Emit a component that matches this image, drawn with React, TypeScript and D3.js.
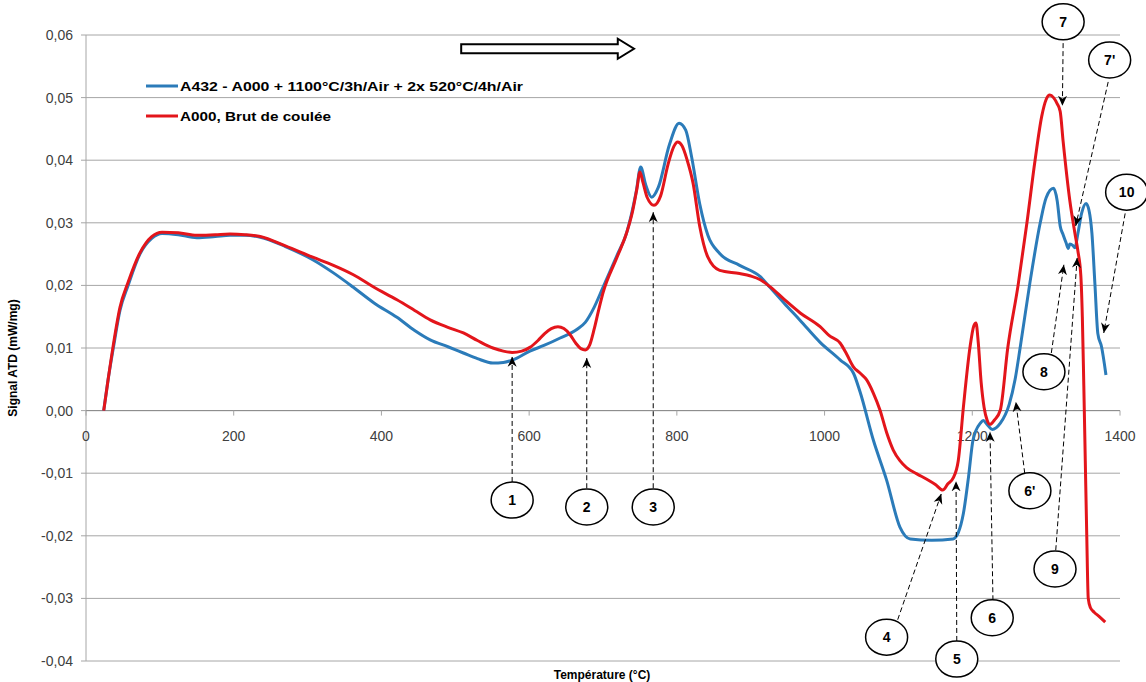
import React from "react";
import * as d3 from "d3";

// ---------- data ----------
const blueT = [24, 30, 37, 46, 57, 73, 89, 103, 125, 150, 175, 195, 215, 236, 270, 307, 335, 362, 390, 421, 445, 466, 490, 511, 530, 551, 565, 578, 601, 620, 642, 665, 676, 688, 700, 719, 732, 745, 751, 758, 766, 775, 790, 803, 812, 820, 831, 842, 858, 885, 913, 926, 945, 967, 994, 1021, 1039, 1048, 1066, 1084, 1102, 1116, 1145, 1174, 1181, 1188, 1195, 1201, 1211, 1215, 1220, 1227, 1238, 1250, 1258, 1265, 1278, 1292, 1300, 1310, 1315, 1319, 1323, 1327, 1330, 1332, 1336, 1339, 1343, 1348, 1354, 1358, 1362, 1366, 1370, 1375, 1381];
const blueY = [0, 0.005, 0.01, 0.016, 0.02, 0.025, 0.0275, 0.0283, 0.0281, 0.0276, 0.0278, 0.028, 0.028, 0.0277, 0.0262, 0.0241, 0.022, 0.0197, 0.0172, 0.0149, 0.0128, 0.0113, 0.0102, 0.0092, 0.0083, 0.0076, 0.0077, 0.0081, 0.0095, 0.0104, 0.0116, 0.013, 0.0141, 0.0165, 0.0197, 0.0248, 0.0284, 0.035, 0.0389, 0.036, 0.0341, 0.0357, 0.0425, 0.0459, 0.0448, 0.0405, 0.033, 0.028, 0.0251, 0.0232, 0.0214, 0.0197, 0.0172, 0.0144, 0.0109, 0.0081, 0.006, 0.003, -0.0047, -0.0111, -0.0186, -0.0205, -0.0207, -0.0205, -0.0195, -0.0164, -0.0105, -0.0047, -0.002, -0.0016, -0.0022, -0.003, -0.002, 0.001, 0.005, 0.0102, 0.0204, 0.03, 0.034, 0.0355, 0.0335, 0.0295, 0.0281, 0.0268, 0.0259, 0.0266, 0.0264, 0.026, 0.0283, 0.0315, 0.0331, 0.032, 0.0283, 0.0203, 0.0123, 0.0102, 0.0057];

const redT = [24, 30, 37, 46, 57, 73, 89, 103, 125, 150, 175, 195, 215, 236, 270, 307, 335, 362, 390, 421, 445, 466, 490, 511, 530, 551, 565, 577, 590, 601, 612, 621, 630, 639, 647, 655, 663, 670, 676, 682, 688, 694, 700, 719, 732, 740, 746, 750, 754, 760, 769, 778, 788, 796, 801, 807, 814, 822, 831, 842, 858, 885, 900, 913, 926, 945, 967, 994, 1006, 1021, 1030, 1039, 1048, 1057, 1066, 1075, 1084, 1093, 1102, 1111, 1125, 1139, 1150, 1160, 1167, 1174, 1181, 1188, 1197, 1202, 1205, 1208, 1212, 1216, 1220, 1224, 1230, 1238, 1248, 1262, 1274, 1285, 1294, 1300, 1305, 1310, 1315, 1319, 1323, 1332, 1339, 1343, 1347, 1349, 1351, 1353, 1355, 1357, 1360, 1365, 1372, 1380];
const redY = [0, 0.005, 0.0105, 0.0165, 0.0205, 0.0252, 0.0278, 0.0285, 0.0284, 0.028, 0.0281, 0.0282, 0.0281, 0.0278, 0.0263, 0.0245, 0.0232, 0.0217, 0.0197, 0.0177, 0.016, 0.0145, 0.0133, 0.0124, 0.0112, 0.01, 0.0095, 0.0093, 0.0095, 0.0101, 0.0112, 0.0123, 0.0131, 0.0134, 0.0131, 0.0122, 0.0108, 0.0099, 0.0097, 0.0105, 0.013, 0.016, 0.0188, 0.0245, 0.0284, 0.0318, 0.0355, 0.0381, 0.0365, 0.034, 0.0328, 0.0343, 0.0393, 0.0422, 0.0429, 0.0423, 0.04, 0.0363, 0.0294, 0.0245, 0.0224, 0.0219, 0.0215, 0.0209, 0.0198, 0.0178, 0.0156, 0.0134, 0.012, 0.0108, 0.009, 0.007, 0.006, 0.0049, 0.0028, 0.0001, -0.0035, -0.0063, -0.008, -0.0091, -0.0101, -0.011, -0.0118, -0.0127, -0.0117, -0.0108, -0.008, 0.0006, 0.0102, 0.0135, 0.014, 0.011, 0.0045, 0.0005, -0.0015, -0.0022, -0.0015, 0.0001, 0.01, 0.02, 0.03, 0.04, 0.047, 0.0497, 0.0504, 0.05, 0.049, 0.0478, 0.043, 0.0336, 0.0283, 0.0255, 0.0215, 0.015, 0.004, -0.008, -0.02, -0.03, -0.0315, -0.0322, -0.0329, -0.0338];

const seriesNames = ["A432 - A000 + 1100°C/3h/Air  + 2x 520°C/4h/Air", "A000, Brut de coulée"];
const xTicks = [0, 200, 400, 600, 800, 1000, 1200, 1400];
const yTicks = [0.06, 0.05, 0.04, 0.03, 0.02, 0.01, 0, -0.01, -0.02, -0.03, -0.04];
const xTitle = "Température (°C)";
const yTitle = "Signal ATD (mW/mg)";

// annotation labels: ellipse centre (temperature, signal), arrow start and tip
const annLabels = ["1", "2", "3", "4", "5", "6", "6'", "7", "7'", "8", "9", "10"];
const annCx = [577, 678, 768, 1084, 1179, 1227, 1278, 1323, 1386, 1297, 1312, 1409];
const annCy = [-0.0143, -0.0154, -0.0154, -0.0362, -0.0397, -0.0331, -0.0128, 0.0621, 0.056, 0.0062, -0.0253, 0.0349];
const arrX0 = [577, 678, 768, 1099, 1179, 1228, 1271, 1323, 1384, 1307, 1313, 1407];
const arrY0 = [-0.0114, -0.0124, -0.0124, -0.0334, -0.0368, -0.0303, -0.01, 0.0587, 0.0525, 0.0092, -0.0223, 0.0315];
const arrX1 = [577, 678, 768, 1158, 1178, 1224, 1259, 1322, 1340, 1324, 1342, 1378];
const arrY1 = [0.0086, 0.0084, 0.0317, -0.0133, -0.0113, -0.0034, 0.0014, 0.0487, 0.0295, 0.0233, 0.0244, 0.0124];

// heating direction arrow (temperature extent, signal level)
const dirArrowT = [508, 720, 742];
const dirArrowY = 0.0578;

const W = 1146;
const H = 682;
const M = { left: 86, right: 1120, top: 35, bottom: 661 };

export default function App() {
  const x = d3.scaleLinear().domain([0, 1400]).range([M.left, M.right]);
  const y = d3.scaleLinear().domain([-0.04, 0.06]).range([M.bottom, M.top]);

  const line = d3
    .line<[number, number]>()
    .x((d) => x(d[0]))
    .y((d) => y(d[1]))
    .curve(d3.curveMonotoneX);

  const blue = blueT.map((t, i) => [t, blueY[i]] as [number, number]);
  const red = redT.map((t, i) => [t, redY[i]] as [number, number]);

  const fmt = (v: number) => d3.format(".2f")(v).replace(".", ",").replace("−", "-");

  const blueC = "#2b7bb9";
  const redC = "#e3151b";
  const gridC = "#a6a6a6";
  const font = "'Liberation Sans', Arial, sans-serif";

  // direction arrow path
  const ax0 = x(dirArrowT[0]);
  const ax1 = x(dirArrowT[1]);
  const ax2 = x(dirArrowT[2]);
  const ay = y(dirArrowY);
  const dirPath = `M${ax0},${ay - 4.5} L${ax1},${ay - 4.5} L${ax1},${ay - 10} L${ax2},${ay} L${ax1},${ay + 10} L${ax1},${ay + 4.5} L${ax0},${ay + 4.5} Z`;

  return (
    <svg
      width={W}
      height={H}
      style={{ position: "absolute", left: 0, top: 0, background: "#fff" }}
      fontFamily={font}
    >
      <defs>
        <marker
          id="ah"
          markerUnits="userSpaceOnUse"
          markerWidth={10}
          markerHeight={10}
          refX={10}
          refY={5}
          orient="auto"
        >
          <path d="M0,0.5 L10,5 L0,9.5 L3,5 Z" fill="#000" />
        </marker>
      </defs>
      <rect x={0} y={0} width={W} height={H} fill="#fff" />

      {/* gridlines */}
      {yTicks.map((t) => (
        <line key={"g" + t} x1={M.left} x2={M.right} y1={y(t)} y2={y(t)} stroke={gridC} strokeWidth={1} />
      ))}
      {/* y axis */}
      <line x1={M.left} x2={M.left} y1={M.top} y2={M.bottom} stroke={gridC} strokeWidth={1} />
      {yTicks.map((t) => (
        <line key={"yt" + t} x1={M.left - 5} x2={M.left} y1={y(t)} y2={y(t)} stroke={gridC} />
      ))}
      {yTicks.map((t) => (
        <text key={"yl" + t} x={73} y={y(t)} dy="0.35em" textAnchor="end" fontSize={14} fill="#404040">
          {fmt(t)}
        </text>
      ))}
      {/* x axis at zero */}
      <line x1={M.left} x2={M.right} y1={y(0)} y2={y(0)} stroke="#8c8c8c" strokeWidth={1} />
      {xTicks.map((t) => (
        <line key={"xt" + t} x1={x(t)} x2={x(t)} y1={y(0)} y2={y(0) + 5} stroke={gridC} />
      ))}
      {xTicks.map((t) => (
        <text key={"xl" + t} x={x(t)} y={y(0) + 30} textAnchor="middle" fontSize={14} fill="#404040">
          {t}
        </text>
      ))}

      {/* axis titles */}
      <text
        transform={`translate(17,${(y(0.02) + y(-0.0)) / 2 + 10}) rotate(-90)`}
        textAnchor="middle"
        fontSize={12}
        fontWeight="bold"
        fill="#000"
      >
        {yTitle}
      </text>
      <text x={602} y={679} textAnchor="middle" fontSize={12} fontWeight="bold" fill="#000">
        {xTitle}
      </text>

      {/* curves */}
      <path d={line(blue) || ""} fill="none" stroke={blueC} strokeWidth={3} strokeLinejoin="round" />
      <path d={line(red) || ""} fill="none" stroke={redC} strokeWidth={3} strokeLinejoin="round" />

      {/* legend */}
      <line x1={146} x2={178} y1={86} y2={86} stroke={blueC} strokeWidth={3} />
      <text x={180} y={86} dy="0.35em" fontSize={13} fontWeight="bold" fill="#000" textLength={343} lengthAdjust="spacingAndGlyphs">
        {seriesNames[0]}
      </text>
      <line x1={146} x2={178} y1={116} y2={116} stroke={redC} strokeWidth={3} />
      <text x={180} y={116} dy="0.35em" fontSize={13} fontWeight="bold" fill="#000" textLength={151} lengthAdjust="spacingAndGlyphs">
        {seriesNames[1]}
      </text>

      {/* heating direction arrow */}
      <path d={dirPath} fill="#fff" stroke="#000" strokeWidth={2} strokeLinejoin="miter" />

      {/* annotations */}
      {annLabels.map((lab, i) => (
        <g key={"a" + i}>
          <line
            x1={x(arrX0[i])}
            y1={y(arrY0[i])}
            x2={x(arrX1[i])}
            y2={y(arrY1[i])}
            stroke="#000"
            strokeWidth={1}
            strokeDasharray="5,3"
            markerEnd="url(#ah)"
          />
          <ellipse cx={x(annCx[i])} cy={y(annCy[i])} rx={21} ry={18} fill="#fff" stroke="#000" strokeWidth={1.5} />
          <text x={x(annCx[i])} y={y(annCy[i])} dy="0.36em" textAnchor="middle" fontSize={14} fontWeight="bold" fill="#000">
            {lab}
          </text>
        </g>
      ))}
    </svg>
  );
}
